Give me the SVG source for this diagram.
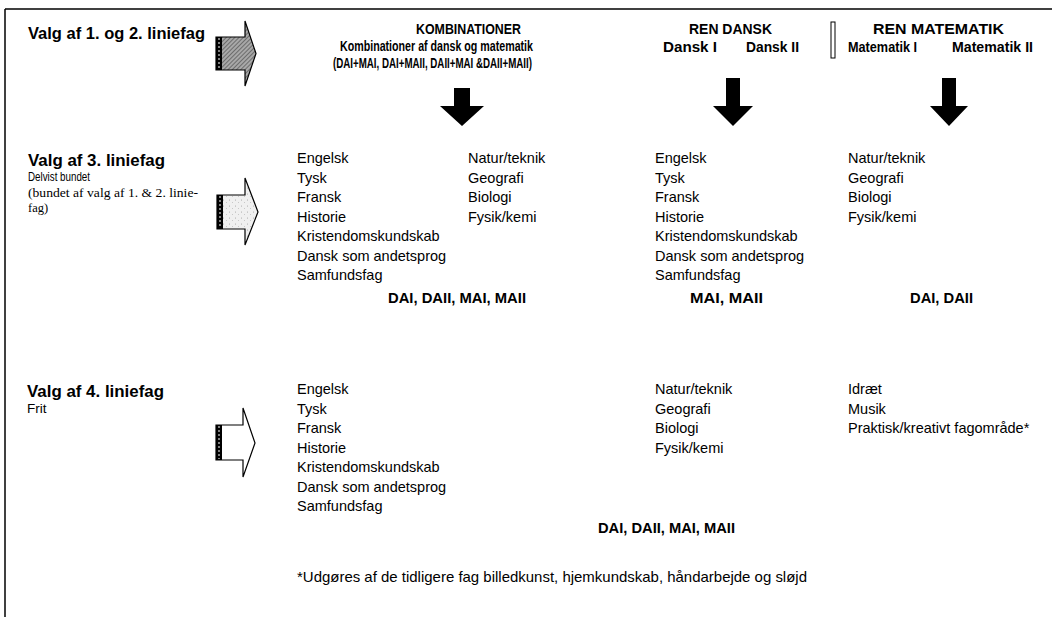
<svg xmlns="http://www.w3.org/2000/svg" width="1052" height="617" viewBox="0 0 1052 617">
<style>
text{font-family:"Liberation Sans",Arial,sans-serif;fill:#000}
.rowt{font-size:16.5px;font-weight:bold}
.sub{font-size:13.5px}
.ser{font-family:"Liberation Serif","Times New Roman",serif;font-size:12.5px}
.hd{font-size:15.5px;font-weight:bold}
.li{font-size:14.5px}
.bd{font-size:14.5px;font-weight:bold}
.frame{stroke:#000;stroke-width:1.5;fill:none}
.rarrow{stroke:#000;stroke-width:1.2}
.darrow{fill:#000;stroke:none}
.strip{fill:#000}
.dash{stroke:#fff;stroke-width:1;stroke-dasharray:2 2}
</style>
<defs>
<pattern id="hatch" width="3" height="3" patternUnits="userSpaceOnUse" patternTransform="rotate(45)">
<rect width="3" height="3" fill="#a8a8a8"/>
<line x1="0" y1="0" x2="0" y2="3" stroke="#444" stroke-width="1.2"/>
</pattern>
<pattern id="speck" width="6" height="6" patternUnits="userSpaceOnUse">
<rect width="6" height="6" fill="#f0f0f0"/>
<circle cx="1.5" cy="2" r="0.5" fill="#999"/>
<circle cx="4.5" cy="4.5" r="0.5" fill="#bbb"/>
</pattern>
</defs>
<rect width="1052" height="617" fill="#fff"/>
<g id="frame">
<line class="frame" x1="5" y1="9" x2="1052" y2="9"/>
<line class="frame" x1="5" y1="9" x2="5" y2="617"/>
</g>

<g id="connectors">
<g id="arrow-row1">
<polygon class="rarrow" fill="url(#hatch)" points="216,37 245,37 245,21 256,53.5 245,86 245,70 216,70"/>
<rect class="strip" x="216" y="37" width="6" height="33"/>
<line class="dash" x1="219" y1="38" x2="219" y2="69"/>
</g>
<g id="arrow-row2">
<polygon class="rarrow" fill="url(#speck)" points="217,195 245,195 245,178 258,212 245,245 245,229 217,229"/>
<rect class="strip" x="217" y="195" width="6" height="34"/>
<line class="dash" x1="220" y1="196" x2="220" y2="228"/>
</g>
<g id="arrow-row3">
<polygon class="rarrow" fill="#fff" points="216,425 243,425 243,408 255,443 243,477 243,460 216,460"/>
<rect class="strip" x="216" y="425" width="6" height="35"/>
<line class="dash" x1="219" y1="426" x2="219" y2="459"/>
</g>
<polygon id="down-komb" class="darrow" points="454,88 470,88 470,106 484,106 462,126 440,106 454,106"/>
<polygon id="down-dansk" class="darrow" points="726,78 740,78 740,106 753,106 733,126 713,106 726,106"/>
<polygon id="down-mat" class="darrow" points="942,78 956,78 956,106 968,106 949,126 930,106 942,106"/>
</g>

<g id="row1-label">
<text class="rowt" x="28" y="39" textLength="177" lengthAdjust="spacingAndGlyphs">Valg af 1. og 2. liniefag</text>
</g>
<g id="row2-label">
<text class="rowt" x="28" y="166" textLength="137" lengthAdjust="spacingAndGlyphs">Valg af 3. liniefag</text>
<text class="sub" x="28" y="181" textLength="62" lengthAdjust="spacingAndGlyphs">Delvist bundet</text>
<text class="ser" x="28" y="197" textLength="170" lengthAdjust="spacingAndGlyphs">(bundet af valg af 1. &amp; 2. linie-</text>
<text class="ser" x="28" y="212">fag)</text>
</g>
<g id="row3-label">
<text class="rowt" x="27" y="397" textLength="137" lengthAdjust="spacingAndGlyphs">Valg af 4. liniefag</text>
<text class="sub" x="27" y="413">Frit</text>
</g>

<g id="head-komb">
<text class="hd" x="416" y="34" textLength="105" lengthAdjust="spacingAndGlyphs">KOMBINATIONER</text>
<text class="hd" x="340" y="51" textLength="193" lengthAdjust="spacingAndGlyphs">Kombinationer af dansk og matematik</text>
<text class="hd" x="333" y="68" textLength="199" lengthAdjust="spacingAndGlyphs">(DAI+MAI, DAI+MAII, DAII+MAI &amp;DAII+MAII)</text>
</g>
<g id="head-dansk">
<text class="hd" x="689" y="34" textLength="83" lengthAdjust="spacingAndGlyphs">REN DANSK</text>
<text class="hd" x="663" y="52" textLength="54" lengthAdjust="spacingAndGlyphs">Dansk I</text>
<text class="hd" x="746" y="52" textLength="53" lengthAdjust="spacingAndGlyphs">Dansk II</text>
</g>
<g id="separator">
<rect x="831" y="22" width="4" height="36" fill="#fff" stroke="#000" stroke-width="1"/>
</g>
<g id="head-mat">
<text class="hd" x="873" y="34" textLength="131" lengthAdjust="spacingAndGlyphs">REN MATEMATIK</text>
<text class="hd" x="848" y="52" textLength="69" lengthAdjust="spacingAndGlyphs">Matematik I</text>
<text class="hd" x="952" y="52" textLength="81" lengthAdjust="spacingAndGlyphs">Matematik II</text>
</g>

<g id="r3-komb-a">
<text class="li" x="297" y="163">Engelsk</text>
<text class="li" x="297" y="182.5">Tysk</text>
<text class="li" x="297" y="202">Fransk</text>
<text class="li" x="297" y="221.5">Historie</text>
<text class="li" x="297" y="241">Kristendomskundskab</text>
<text class="li" x="297" y="260.5">Dansk som andetsprog</text>
<text class="li" x="297" y="280">Samfundsfag</text>
</g>
<g id="r3-komb-b">
<text class="li" x="468" y="163">Natur/teknik</text>
<text class="li" x="468" y="182.5">Geografi</text>
<text class="li" x="468" y="202">Biologi</text>
<text class="li" x="468" y="221.5">Fysik/kemi</text>
</g>
<g id="r3-komb-req">
<text class="bd" x="388" y="303" textLength="138" lengthAdjust="spacingAndGlyphs">DAI, DAII, MAI, MAII</text>
</g>
<g id="r3-dansk">
<text class="li" x="655" y="163">Engelsk</text>
<text class="li" x="655" y="182.5">Tysk</text>
<text class="li" x="655" y="202">Fransk</text>
<text class="li" x="655" y="221.5">Historie</text>
<text class="li" x="655" y="241">Kristendomskundskab</text>
<text class="li" x="655" y="260.5">Dansk som andetsprog</text>
<text class="li" x="655" y="280">Samfundsfag</text>
<text class="bd" x="690" y="303" textLength="73" lengthAdjust="spacingAndGlyphs">MAI, MAII</text>
</g>
<g id="r3-mat">
<text class="li" x="848" y="163">Natur/teknik</text>
<text class="li" x="848" y="182.5">Geografi</text>
<text class="li" x="848" y="202">Biologi</text>
<text class="li" x="848" y="221.5">Fysik/kemi</text>
<text class="bd" x="910" y="303" textLength="63" lengthAdjust="spacingAndGlyphs">DAI, DAII</text>
</g>

<g id="r4-a">
<text class="li" x="297" y="394">Engelsk</text>
<text class="li" x="297" y="413.5">Tysk</text>
<text class="li" x="297" y="433">Fransk</text>
<text class="li" x="297" y="452.5">Historie</text>
<text class="li" x="297" y="472">Kristendomskundskab</text>
<text class="li" x="297" y="491.5">Dansk som andetsprog</text>
<text class="li" x="297" y="511">Samfundsfag</text>
</g>
<g id="r4-b">
<text class="li" x="655" y="394">Natur/teknik</text>
<text class="li" x="655" y="413.5">Geografi</text>
<text class="li" x="655" y="433">Biologi</text>
<text class="li" x="655" y="452.5">Fysik/kemi</text>
</g>
<g id="r4-c">
<text class="li" x="848" y="394">Idræt</text>
<text class="li" x="848" y="413.5">Musik</text>
<text class="li" x="848" y="433">Praktisk/kreativt fagområde*</text>
</g>
<g id="r4-req">
<text class="bd" x="598" y="533" textLength="137" lengthAdjust="spacingAndGlyphs">DAI, DAII, MAI, MAII</text>
</g>
<g id="footnote">
<text class="li" x="297" y="582" textLength="510" lengthAdjust="spacingAndGlyphs">*Udgøres af de tidligere fag billedkunst, hjemkundskab, håndarbejde og sløjd</text>
</g>
</svg>
